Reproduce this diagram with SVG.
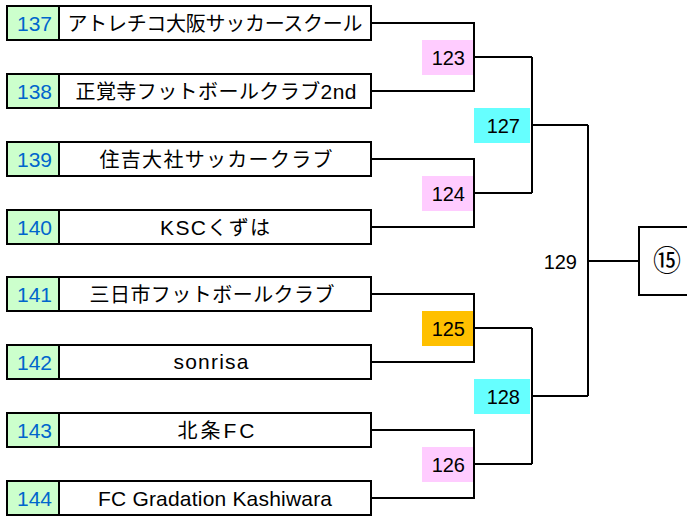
<svg xmlns="http://www.w3.org/2000/svg" width="687" height="516" viewBox="0 0 687 516">
<style>
.box{fill:#fff;stroke:#000;stroke-width:2}
.num{fill:#CCFFCC;stroke:#000;stroke-width:2}
.nt{font-family:"Liberation Sans",Arial,sans-serif;font-size:21px;fill:#0066CC;text-anchor:middle}
.name{font-family:"Noto Sans CJK JP","Noto Sans",sans-serif;font-size:20px;fill:#000;text-anchor:middle}
.lat{font-family:"Liberation Sans",Arial,sans-serif;font-size:21px}
.lbl{font-family:"Liberation Sans",Arial,sans-serif;font-size:20px;fill:#000;text-anchor:end}
.ln{fill:none;stroke:#000;stroke-width:2}
.pink{fill:#FFCCFF}
.cyan{fill:#66FFFF}
.orange{fill:#FFC000}
</style>
<rect width="687" height="516" fill="#fff"/>
<g id="labels-bg">
<rect class="pink" x="422" y="40" width="51" height="35"/>
<rect class="pink" x="422" y="176" width="51" height="35"/>
<rect class="orange" x="422" y="311" width="51" height="35"/>
<rect class="pink" x="422" y="447" width="51" height="35"/>
<rect class="cyan" x="474" y="108" width="56" height="35"/>
<rect class="cyan" x="474" y="379" width="56" height="35"/>
</g>
<g id="connectors">
<path class="ln" d="M371,23 H474 V91 H371 M474,57 H532"/>
<path class="ln" d="M371,159 H474 V227 H371 M474,193 H532"/>
<path class="ln" d="M371,294 H474 V362 H371 M474,328 H532"/>
<path class="ln" d="M371,430 H474 V498 H371 M474,464 H532"/>
<path class="ln" d="M532,57 V193 M532,125 H588"/>
<path class="ln" d="M532,328 V464 M532,396 H588"/>
<path class="ln" d="M588,125 V396 M588,261 H639"/>
</g>
<g id="t137"><rect class="box" x="7" y="6" width="364" height="34"/><rect class="num" x="7" y="6" width="52" height="34"/><text class="nt" x="34.5" y="30.5">137</text><text class="name" x="215" y="31" textLength="295">アトレチコ大阪サッカースクール</text></g>
<g id="t138"><rect class="box" x="7" y="74" width="364" height="34"/><rect class="num" x="7" y="74" width="52" height="34"/><text class="nt" x="34.5" y="98.5">138</text><text class="name" x="216" y="99" textLength="281">正覚寺フットボールクラブ<tspan class="lat">2nd</tspan></text></g>
<g id="t139"><rect class="box" x="7" y="142" width="364" height="34"/><rect class="num" x="7" y="142" width="52" height="34"/><text class="nt" x="34.5" y="166.5">139</text><text class="name" x="216" y="167" textLength="233">住吉大社サッカークラブ</text></g>
<g id="t140"><rect class="box" x="7" y="210" width="364" height="34"/><rect class="num" x="7" y="210" width="52" height="34"/><text class="nt" x="34.5" y="234.5">140</text><text class="name" x="215" y="235" textLength="110"><tspan class="lat">KSC</tspan>くずは</text></g>
<g id="t141"><rect class="box" x="7" y="277" width="364" height="34"/><rect class="num" x="7" y="277" width="52" height="34"/><text class="nt" x="34.5" y="301.5">141</text><text class="name" x="212" y="302" textLength="245">三日市フットボールクラブ</text></g>
<g id="t142"><rect class="box" x="7" y="345" width="364" height="34"/><rect class="num" x="7" y="345" width="52" height="34"/><text class="nt" x="34.5" y="369.5">142</text><text class="name lat" x="211" y="369" font-size="22" textLength="75">sonrisa</text></g>
<g id="t143"><rect class="box" x="7" y="413" width="364" height="34"/><rect class="num" x="7" y="413" width="52" height="34"/><text class="nt" x="34.5" y="437.5">143</text><text class="name" x="216" y="438" textLength="77">北条<tspan class="lat">FC</tspan></text></g>
<g id="t144"><rect class="box" x="7" y="481" width="364" height="34"/><rect class="num" x="7" y="481" width="52" height="34"/><text class="nt" x="34.5" y="505.5">144</text><text class="name lat" x="215" y="505.5" font-size="21.5" textLength="234">FC Gradation Kashiwara</text></g>
<g id="m123"><text class="lbl" x="465" y="65">123</text></g>
<g id="m124"><text class="lbl" x="465" y="201">124</text></g>
<g id="m125"><text class="lbl" x="465" y="336">125</text></g>
<g id="m126"><text class="lbl" x="465" y="472">126</text></g>
<g id="m127"><text class="lbl" x="520" y="133">127</text></g>
<g id="m128"><text class="lbl" x="520" y="404">128</text></g>
<g id="m129"><text class="lbl" x="577" y="269">129</text></g>
<g id="final"><rect class="box" x="639" y="227" width="70" height="68"/><text x="667" y="271" font-family="Noto Sans CJK JP,sans-serif" font-size="28" text-anchor="middle">⑮</text></g>
</svg>
